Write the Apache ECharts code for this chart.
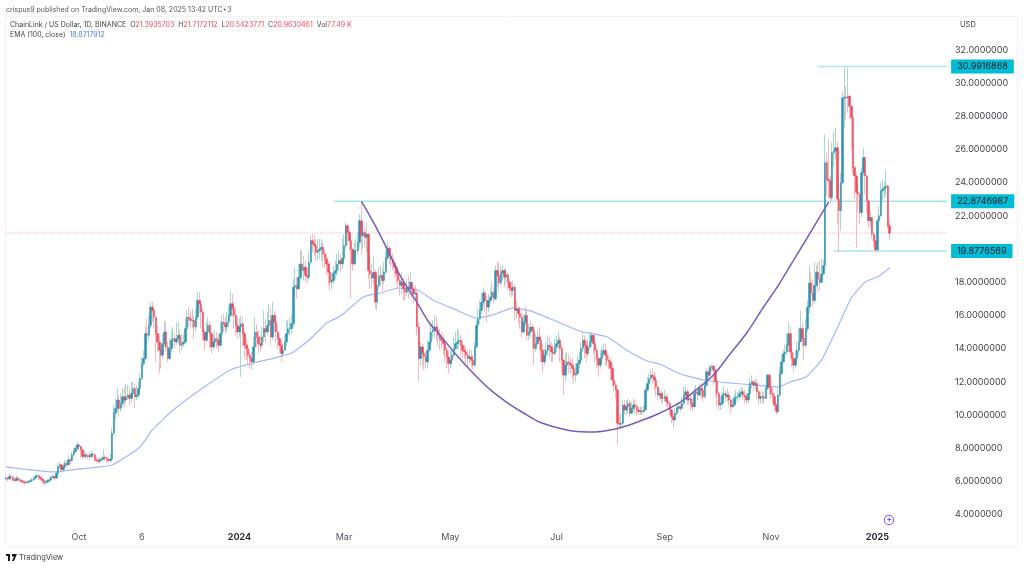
<!DOCTYPE html>
<html>
<head>
<meta charset="utf-8">
<title>ChainLink / US Dollar</title>
<style>
html, body { margin: 0; padding: 0; background: #fff; }
#chart { width: 1024px; height: 568px; }
</style>
</head>
<body>
<div id="chart"></div>
<script src="https://cdn.jsdelivr.net/npm/echarts@6/dist/echarts.min.js"></script>
<script>
// daily candles, first one is 2023-08-20
const firstDay = Date.UTC(2023, 7, 20);
const dayCount = 541; // the axis runs on past the last candle
const firstOpen = 6.15;

const closes = [
  6.2,6.15,6.3,6.25,6.1,6.05,6.2,6.1,6.05,6.0,
  5.95,5.9,5.95,6.0,6.05,6.1,6.2,6.3,6.35,6.25,
  6.15,6.05,5.9,5.95,6.05,6.1,6.25,6.3,6.2,6.5,
  6.9,7.0,6.7,6.9,7.1,7.0,7.3,7.25,7.6,7.8,
  8.0,8.2,8.1,7.9,7.5,7.6,7.5,7.55,7.5,7.65,
  7.6,7.3,7.25,7.2,7.3,7.35,7.45,7.4,7.3,7.25,
  7.35,8.9,10.1,10.4,10.9,10.4,10.7,11.1,10.9,11.1,
  11.2,11.0,11.3,11.6,11.1,11.2,11.6,12.2,13.1,13.4,
  14.9,14.8,15.4,16.5,16.3,15.9,14.9,14.4,13.9,13.6,
  14.3,15.0,14.1,13.4,14.0,14.5,14.6,14.4,14.6,14.8,
  14.2,14.3,14.4,15.2,15.9,15.8,15.7,15.7,15.3,15.9,
  16.9,16.7,16.2,15.0,14.5,15.0,15.4,14.9,14.1,14.4,
  14.6,14.5,14.2,14.9,15.6,15.5,15.3,15.6,16.0,16.7,
  16.4,16.0,15.4,15.0,15.3,15.5,14.9,14.2,14.0,13.6,
  13.4,13.2,14.1,15.0,14.7,14.3,14.2,14.7,15.2,15.0,
  15.4,15.7,14.7,16.0,15.6,15.0,14.6,14.2,13.7,13.9,
  14.4,14.9,15.2,15.2,15.5,17.7,17.8,17.6,18.3,19.1,
  18.7,18.9,18.4,18.3,19.2,20.5,20.3,20.2,19.8,19.9,
  20.0,20.1,19.7,19.4,19.1,18.6,18.0,18.1,18.55,18.7,
  19.1,19.3,19.1,19.45,20.2,21.4,21.0,20.5,20.0,19.1,
  19.9,19.9,20.4,21.7,20.8,21.0,20.7,20.9,18.7,18.5,
  18.25,18.6,16.8,17.8,18.3,18.4,18.1,18.6,19.45,20.05,
  19.6,19.4,19.15,18.9,18.5,18.1,17.8,18.0,17.6,17.4,
  17.7,17.6,18.0,17.6,17.3,17.35,15.3,13.4,14.1,13.7,
  13.5,13.2,13.9,14.4,15.0,15.1,15.3,15.1,14.8,14.6,
  14.5,14.3,13.9,13.5,13.1,13.3,13.6,14.0,14.3,14.4,
  14.5,14.2,13.9,13.8,13.6,13.4,13.5,13.3,13.0,14.1,
  15.4,15.8,16.3,16.8,17.35,16.9,16.5,16.9,17.1,17.4,
  17.0,18.7,18.4,17.95,18.55,18.7,18.3,18.45,18.0,17.65,
  17.5,17.7,16.3,16.4,16.1,15.9,15.0,15.6,16.0,14.8,
  15.0,15.3,15.1,14.0,14.3,14.7,14.5,13.9,13.2,13.6,
  13.9,14.2,14.1,13.8,13.7,14.1,14.3,14.5,14.0,13.3,
  12.4,13.0,13.2,13.1,13.0,12.8,12.4,12.5,13.1,13.3,
  14.0,14.5,14.2,13.7,14.1,14.4,14.8,14.3,13.9,13.4,
  13.0,13.4,13.7,13.9,13.6,13.3,13.2,12.8,12.1,11.8,
  11.5,9.5,9.45,9.5,10.6,10.3,10.5,10.7,10.1,10.4,
  10.6,10.5,10.3,10.2,10.25,10.2,10.3,11.5,11.9,12.2,
  12.4,12.3,12.1,11.7,11.2,11.3,11.0,11.0,11.1,10.8,
  10.7,10.3,9.9,9.7,10.1,10.4,10.5,10.4,10.7,11.2,
  11.4,10.9,11.0,10.7,10.5,11.3,11.4,11.2,11.6,11.5,
  11.1,11.8,12.6,12.4,12.9,12.95,12.7,12.0,11.3,10.6,
  10.7,11.2,11.3,11.1,11.2,10.9,10.5,10.6,11.0,11.1,
  11.1,11.3,11.4,11.2,11.1,10.9,11.3,11.9,12.0,11.8,
  11.9,11.4,11.0,11.1,11.1,11.0,11.6,12.4,11.7,11.3,
  11.1,10.6,10.2,11.2,12.5,13.2,13.7,13.8,14.2,14.9,
  13.8,13.4,13.0,13.4,13.9,14.4,15.2,14.6,14.2,15.2,
  16.5,17.95,17.35,16.9,17.8,18.6,18.2,18.0,18.5,19.0,
  25.2,24.2,24.1,23.1,25.8,25.9,26.1,23.0,22.3,24.0,
  29.1,29.15,29.1,29.2,28.6,27.9,24.9,24.4,23.4,23.3,
  22.2,24.6,25.5,24.4,22.9,21.7,21.9,20.9,20.5,19.95,
  21.7,22.0,23.5,23.6,23.7,23.8,21.39,20.96
];

const highs = [
  6.35,6.3,6.5,6.4,6.3,6.2,6.35,6.25,6.2,6.15,
  6.1,6.05,6.05,6.1,6.15,6.2,6.3,6.4,6.45,6.4,
  6.3,6.2,6.05,6.1,6.15,6.25,6.35,6.45,6.35,6.6,
  7.1,7.2,7.05,7.1,7.3,7.25,7.5,7.45,7.8,8.0,
  8.15,8.35,8.3,8.15,7.95,7.85,7.75,7.7,7.75,7.85,
  7.75,7.65,7.45,7.4,7.45,7.5,7.95,7.6,7.5,7.45,
  7.7,9.2,10.6,11.0,11.6,11.2,11.3,11.6,11.7,11.9,
  11.8,11.7,12.0,12.0,11.9,11.8,12.0,12.5,13.5,13.9,
  15.3,15.8,16.0,16.8,16.8,16.4,15.8,15.4,14.9,14.2,
  14.9,15.7,15.6,14.4,14.6,15.1,15.3,14.9,15.6,15.6,
  15.1,14.9,14.9,15.8,16.3,16.5,16.3,16.4,16.0,16.4,
  17.4,17.4,16.9,16.4,15.2,15.6,15.9,15.6,15.0,14.9,
  15.1,15.0,14.9,15.6,16.0,16.1,15.9,16.2,16.6,17.5,
  17.3,16.8,16.5,15.8,15.8,16.0,15.9,15.1,14.6,14.3,
  13.9,13.8,14.7,15.9,15.5,15.1,14.8,15.3,16.3,15.8,
  16.2,16.7,16.4,16.8,16.3,16.0,15.4,14.9,14.6,14.3,
  14.8,15.7,15.7,15.9,16.1,18.2,18.9,18.3,19.1,20.0,
  19.9,19.6,19.3,18.9,19.8,20.8,20.9,20.8,20.6,20.6,
  20.6,20.6,20.4,20.0,19.7,19.2,18.7,18.6,19.0,19.3,
  19.7,19.9,19.7,20.6,20.9,21.6,21.5,21.1,20.8,19.9,
  20.4,20.6,21.0,22.1,22.87,21.6,21.3,21.6,20.9,19.6,
  19.1,19.5,18.8,18.4,18.9,19.0,18.8,19.2,19.9,20.5,
  20.2,19.9,19.7,19.3,19.0,18.6,18.3,18.6,18.3,18.0,
  18.2,18.4,18.6,18.0,17.8,17.8,17.5,15.6,14.4,14.3,
  14.1,13.8,14.5,15.0,15.4,15.7,16.0,15.9,15.4,15.2,
  15.0,14.9,14.5,14.1,13.9,13.9,14.1,14.7,15.0,15.2,
  15.1,14.8,14.5,14.2,14.1,13.9,14.0,13.9,13.6,14.4,
  15.7,16.4,16.9,17.4,17.7,17.5,17.2,17.3,17.6,18.0,
  17.7,19.0,19.2,19.2,19.0,19.0,18.8,18.9,18.6,18.2,
  18.0,18.1,17.9,16.9,16.6,16.5,16.3,16.1,16.5,16.3,
  15.5,15.7,15.5,15.3,14.9,15.1,15.3,14.8,14.3,14.0,
  14.4,14.8,14.7,14.4,14.2,14.6,14.8,15.0,14.7,14.3,
  13.4,13.7,13.8,13.7,13.5,13.4,13.0,13.1,13.6,13.8,
  14.4,15.0,14.8,14.5,14.5,15.0,15.0,14.8,14.4,14.1,
  13.5,13.9,14.1,14.3,14.3,13.8,13.6,13.4,13.1,12.4,
  12.0,11.6,10.0,10.1,10.9,10.9,10.9,11.0,10.9,10.8,
  11.0,10.9,10.7,10.5,10.5,10.5,10.6,11.7,12.3,12.5,
  12.7,12.8,12.6,12.2,11.7,11.6,11.5,11.4,11.5,11.3,
  11.1,10.8,10.4,10.1,10.4,10.7,10.8,10.7,11.1,11.7,
  11.7,11.6,11.4,11.2,11.0,11.6,11.8,11.7,11.9,11.9,
  11.7,12.0,12.8,12.8,13.0,13.05,13.0,12.8,12.1,11.4,
  11.1,11.4,11.7,11.5,11.6,11.4,11.0,11.1,11.3,11.5,
  11.4,11.6,11.7,11.6,11.5,11.3,11.7,12.2,12.4,12.1,
  12.2,12.1,11.5,11.4,11.4,11.4,11.8,12.5,12.5,11.8,
  11.6,11.3,10.7,11.6,12.9,13.6,13.9,14.2,14.9,15.6,
  15.3,14.3,13.7,13.9,14.4,15.3,16.3,15.6,14.8,15.8,
  16.9,19.0,18.6,18.2,19.2,19.0,19.2,19.3,19.4,19.4,
  26.9,25.8,26.6,24.4,26.4,27.0,27.3,26.5,24.0,24.6,
  29.5,31.0,29.8,30.9,29.3,28.6,28.0,25.0,24.6,24.0,
  23.4,24.9,26.1,25.6,24.5,23.0,22.3,21.9,21.0,20.8,
  21.9,22.6,24.0,24.2,24.1,24.75,23.9,21.72
];

const lows = [
  6.05,6.0,6.1,6.1,6.0,5.95,6.0,6.0,5.95,5.9,
  5.85,5.8,5.85,5.9,5.95,6.0,6.05,6.15,6.2,6.1,
  6.05,5.9,5.75,5.8,5.9,6.0,6.05,6.15,6.1,6.15,
  6.45,6.75,6.6,6.6,6.8,6.85,6.95,7.05,7.2,7.5,
  7.7,7.9,7.85,7.4,7.3,7.4,7.35,7.35,7.3,7.4,
  7.4,7.2,7.1,7.05,7.15,7.2,7.3,7.25,7.15,7.1,
  7.15,7.3,8.8,9.7,10.2,9.9,10.2,10.5,10.5,10.7,
  10.9,10.6,10.7,11.0,10.4,10.9,11.0,11.4,12.1,12.9,
  13.3,14.2,14.5,15.2,15.6,15.2,13.2,13.8,12.5,12.8,
  13.4,14.1,13.8,13.2,13.3,13.8,14.1,14.0,14.2,14.3,
  13.7,13.9,14.1,14.3,15.1,15.3,15.2,15.2,14.6,15.0,
  15.7,16.1,15.2,14.5,13.9,14.4,14.7,14.0,13.7,13.9,
  14.1,14.0,13.8,14.1,14.7,15.0,14.9,15.0,15.3,15.9,
  15.9,15.2,14.8,14.6,14.7,12.3,14.1,13.4,13.3,13.0,
  12.8,12.7,13.0,13.9,14.1,13.7,13.8,14.0,14.4,14.4,
  14.8,15.1,14.2,14.5,15.0,14.4,14.0,13.7,13.2,13.5,
  13.9,14.1,14.7,14.7,14.9,15.3,17.2,17.0,17.5,18.1,
  18.2,18.1,18.0,17.9,18.2,19.2,19.8,19.6,19.3,19.3,
  19.4,19.3,18.9,18.9,18.4,17.8,17.5,17.6,17.9,18.2,
  18.4,18.7,18.7,18.8,19.2,20.0,20.3,19.9,17.05,18.7,
  19.0,19.4,19.7,20.1,19.6,20.0,20.1,19.8,18.2,17.6,
  17.6,17.8,16.4,16.3,17.6,17.8,17.5,17.9,18.5,19.3,
  19.1,18.9,18.7,18.3,17.9,17.6,17.2,17.3,16.9,16.9,
  17.1,17.0,17.2,17.0,16.7,16.9,14.8,12.0,13.0,13.0,
  12.7,12.8,12.8,13.8,14.2,14.6,14.7,14.5,14.2,13.9,
  14.0,13.6,13.2,12.8,12.5,12.8,13.0,13.4,13.9,13.9,
  14.0,13.6,13.4,13.4,13.1,12.9,13.1,12.9,12.7,12.9,
  14.0,15.1,15.5,16.1,16.6,16.2,15.6,16.2,16.7,16.9,
  16.7,16.9,17.7,17.5,17.8,18.1,17.7,17.9,17.5,17.2,
  17.1,17.2,15.7,15.8,15.5,15.2,14.7,14.9,15.4,14.5,
  14.5,14.7,14.0,13.0,13.8,14.2,13.9,13.2,12.6,13.0,
  13.4,13.6,13.5,13.2,13.2,13.6,13.8,14.0,13.2,12.6,
  11.2,12.0,12.7,12.5,12.5,12.2,11.9,12.0,12.4,12.8,
  13.2,13.8,13.4,13.2,13.5,13.9,14.1,13.7,13.2,12.8,
  12.3,12.8,13.2,13.5,13.0,12.9,12.8,12.1,11.7,11.4,
  11.0,8.2,9.2,9.2,9.3,10.0,10.0,10.1,9.9,10.1,
  10.2,10.1,10.0,10.0,10.0,10.0,10.1,10.3,11.4,11.7,
  12.0,11.9,11.5,11.1,10.9,10.9,10.7,10.7,10.8,10.5,
  10.4,10.0,9.5,9.2,9.6,10.0,10.2,10.2,10.3,10.6,
  11.0,10.6,10.6,10.3,10.2,10.4,11.0,10.9,11.1,11.0,
  10.8,11.0,11.7,12.1,12.3,12.6,11.8,11.1,10.5,10.3,
  10.3,10.6,11.0,10.8,10.8,10.5,10.1,10.4,10.5,10.7,
  10.8,10.9,11.1,10.9,10.7,10.6,10.7,11.2,11.6,11.4,
  11.5,11.0,10.6,10.7,10.7,10.7,11.0,11.5,11.2,11.0,
  10.7,10.3,10.0,10.1,11.1,12.4,13.1,13.4,13.6,13.8,
  13.4,12.9,12.6,12.8,13.0,13.6,14.4,14.1,13.3,14.1,
  15.0,16.1,16.6,16.5,16.7,17.7,17.4,17.5,17.9,18.4,
  18.8,23.2,23.0,22.7,22.9,25.0,25.4,21.5,19.8,21.1,
  23.9,27.3,27.8,28.2,27.8,26.0,24.5,23.0,20.05,22.2,
  21.5,21.9,24.4,23.3,22.2,21.3,21.3,20.6,20.1,19.8,
  19.8,21.6,21.9,23.0,23.1,23.2,21.2,20.54
];

// EMA(100) read at a few places, day = candle number
const emaDays = [0,27,42,61,77,84,96,113,130,156,164,174,184,192,205,215,225,236,245,257,270,279,291,301,314,329,345,356,368,375,387,400,415,429,443,450,459,468,477,485,493,500,507];
const emaValues = [6.87,6.57,6.75,6.99,8.07,9.10,10.30,11.63,12.77,13.49,13.73,14.52,15.54,15.96,17.11,17.35,17.65,17.53,16.93,16.39,15.84,16.02,16.45,16.27,15.72,15.06,14.70,13.92,13.25,13.07,12.47,12.11,11.93,11.81,11.69,11.99,12.29,13.31,15.24,17.05,18.01,18.31,18.87];

// hand drawn cup
const cupDays = [204,212,219,226,236,243,249,258,268,278,288,297,306,316,325,337,345,354,364,374,387,396,406,415,425,434,444,452,460,472];
const cupValues = [22.87,21.39,19.94,18.43,16.75,15.54,14.82,13.67,12.53,11.51,10.72,10.12,9.58,9.25,9.04,8.98,9.07,9.28,9.64,10.06,10.78,11.51,12.41,13.61,14.94,16.39,17.95,19.34,20.72,22.83];

// horizontal levels
const levelValues = [30.9916868, 22.8746987, 19.8776569];
const levelLabels = ['30.9916868', '22.8746987', '19.8776569'];
const levelStarts = [466, 188, 475];
const lastPrice = 20.9630461;

const tickDates = ['2023-10-01','2023-11-06','2024-01-01','2024-03-01','2024-05-01','2024-07-01','2024-09-01','2024-11-01','2025-01-01'];
const tickLabels = ['Oct','6','2024','Mar','May','Jul','Sep','Nov','2025'];

const categories = [];
for (let i = 0; i < dayCount; i++) {
  categories.push(new Date(firstDay + i * 86400000).toISOString().slice(0, 10));
}

const candles = [];
const bodies = [];
closes.forEach((c, i) => {
  // the candles open where the previous one closed
  const o = i === 0 ? firstOpen : closes[i - 1];
  candles.push([o, c, lows[i], highs[i]]);
  bodies.push([o, c, Math.min(o, c), Math.max(o, c)]);
});

const FONT = 'Inter';
const chart = echarts.init(document.getElementById('chart'));

const levelSeries = levelValues.map((v, i) => ({
  name: levelLabels[i],
  type: 'line',
  z: 1,
  symbol: 'none',
  silent: true,
  clip: false,
  lineStyle: { color: '#a5e6ef', width: 1.5 },
  data: [[levelStarts[i], v], [dayCount - 1, v]],
  endLabel: {
    show: true,
    formatter: levelLabels[i],
    distance: 4,
    backgroundColor: '#00bcd4',
    color: '#131722',
    fontFamily: FONT,
    fontSize: 9,
    padding: [3, 6, 2, 6]
  }
}));

const option = {
  animation: false,
  backgroundColor: '#ffffff',
  grid: { left: 5, right: 76, top: 49.8, height: 464.8 },
  xAxis: {
    type: 'category',
    data: categories,
    boundaryGap: true,
    axisLine: { show: false },
    axisTick: { show: false },
    splitLine: { show: false },
    axisLabel: {
      margin: 18,
      fontFamily: FONT,
      fontSize: 9,
      color: '#50535e',
      hideOverlap: false,
      interval: (i, value) => tickDates.indexOf(value) >= 0,
      formatter: value => {
        const label = tickLabels[tickDates.indexOf(value)];
        return /^\d{4}$/.test(label) ? '{year|' + label + '}' : label;
      },
      rich: { year: { fontFamily: FONT, fontSize: 9, fontWeight: 'bold', color: '#2a2e39' } }
    }
  },
  yAxis: {
    type: 'value',
    position: 'right',
    min: 4,
    max: 32,
    interval: 2,
    axisLine: { show: false },
    axisTick: { show: false },
    splitLine: { show: false },
    axisLabel: {
      margin: 7,
      fontFamily: FONT,
      fontSize: 9,
      color: '#3c3f48',
      formatter: v => v.toFixed(7)
    }
  },
  series: [
    ...levelSeries,
    {
      name: 'Last price',
      type: 'line',
      z: 1,
      symbol: 'none',
      silent: true,
      lineStyle: { color: '#f8b4bb', width: 1, type: 'dotted' },
      data: [[0, lastPrice], [dayCount - 1, lastPrice]]
    },
    {
      name: 'Wicks',
      type: 'candlestick',
      z: 2,
      silent: true,
      barWidth: 1,
      itemStyle: { color: '#a6dacd', color0: '#f9b8be', borderColor: '#a6dacd', borderColor0: '#f9b8be', borderWidth: 1 },
      data: candles
    },
    {
      name: 'EMA (100, close)',
      type: 'line',
      z: 3,
      symbol: 'none',
      silent: true,
      smooth: 0.15,
      lineStyle: { color: '#a3b8fb', width: 1.2 },
      data: emaDays.map((d, i) => [d, emaValues[i]])
    },
    {
      name: 'Bodies',
      type: 'candlestick',
      z: 4,
      silent: true,
      barWidth: 2,
      itemStyle: { color: '#2c93b5', color0: '#f2485c', borderColor: '#2c93b5', borderColor0: '#f2485c', borderWidth: 0.5 },
      data: bodies
    },
    {
      name: 'Cup',
      type: 'line',
      z: 5,
      symbol: 'none',
      silent: true,
      smooth: 0.3,
      lineStyle: { color: '#7a5bbd', width: 1.5 },
      data: cupDays.map((d, i) => [d, cupValues[i]])
    }
  ],
  graphic: [
    {
      type: 'rect', silent: true, z: 0,
      shape: { x: 5.5, y: 16.5, width: 1012, height: 531 },
      style: { fill: 'none', stroke: '#f2f2f2', lineWidth: 1 }
    },
    {
      type: 'text', left: 6, top: 6,
      style: { text: 'crispus9 published on TradingView.com, Jan 08, 2025 13:42 UTC+3', fontFamily: FONT, fontSize: 7, fill: '#555' }
    },
    {
      type: 'text', left: 10, top: 21,
      style: {
        text: 'ChainLink / US Dollar, 1D, BINANCE  O{v|21.3935703}  H{v|21.7172112}  L{v|20.5423771}  C{v|20.9630461}  Vol{v|77.49 K}',
        fontFamily: FONT, fontSize: 7, fill: '#444',
        rich: { v: { fontFamily: FONT, fontSize: 7, fill: '#f2485c' } }
      }
    },
    {
      type: 'text', left: 10, top: 31,
      style: {
        text: 'EMA (100, close)  {b|18.8717912}',
        fontFamily: FONT, fontSize: 7, fill: '#444',
        rich: { b: { fontFamily: FONT, fontSize: 7, fill: '#4f7bf7' } }
      }
    },
    {
      type: 'text', left: 960, top: 21,
      style: { text: 'USD', fontFamily: FONT, fontSize: 7.5, fill: '#444' }
    },
    {
      type: 'circle', silent: true,
      shape: { cx: 889, cy: 520, r: 4.7 },
      style: { fill: '#fff', stroke: '#7c4dff', lineWidth: 1 }
    },
    {
      type: 'text', left: 886.5, top: 516,
      style: { text: '+', fontFamily: FONT, fontSize: 8, fontWeight: 'bold', fill: '#7c4dff' }
    },
    {
      type: 'polygon', silent: true,
      shape: { points: [[6, 554], [10, 554], [10, 561], [8, 561], [8, 556], [6, 556]] },
      style: { fill: '#1a1a1a' }
    },
    {
      type: 'polygon', silent: true,
      shape: { points: [[12, 554], [17, 554], [14, 561], [12, 561], [14, 556.5], [12, 556.5]] },
      style: { fill: '#1a1a1a' }
    },
    {
      type: 'text', left: 19, top: 554,
      style: { text: 'TradingView', fontFamily: FONT, fontSize: 7.5, fill: '#444' }
    }
  ]
};

chart.setOption(option);
</script>
</body>
</html>
